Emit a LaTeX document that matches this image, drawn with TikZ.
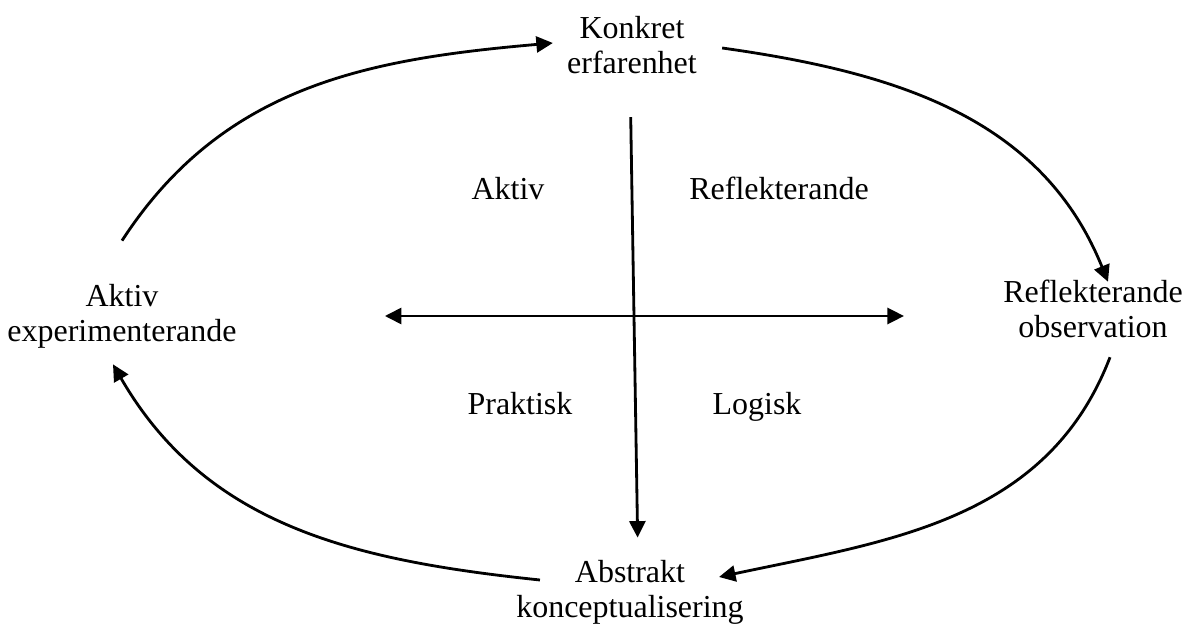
\documentclass[tikz,border=0pt]{standalone}
\usepackage{fontspec}
\setmainfont{Liberation Serif}
\usepackage{tikz}
\usetikzlibrary{arrows.meta,positioning}

\tikzset{
  lbl/.style={inner sep=0pt, align=center, font=\fontsize{18.2pt}{19.9pt}\selectfont},
  flow/.style={line width=1.6pt, -{Triangle[length=0.33cm,width=0.32cm]}},
  both/.style={line width=1.6pt, {Triangle[length=0.33cm,width=0.32cm]}-{Triangle[length=0.33cm,width=0.32cm]}}
}

\begin{document}
\begin{tikzpicture}
\useasboundingbox (0,0) rectangle (23.78,12.52);

% Draw the four stages
\node[lbl] (ke) at (12.64,11.62) {Konkret\\erfarenhet};
\node[lbl] (ae) at (2.44,6.20) {Aktiv\\experimenterande};
\node[lbl] (ro) at (21.86,6.34) {Reflekterande\\observation};
\node[lbl] (ak) at (12.60,0.68) {Abstrakt\\konceptualisering};

% Quadrant labels
\node[lbl, anchor=base] (aktiv) at (10.16,8.52) {Aktiv};
\node[lbl, anchor=base] (refl) at (15.58,8.52) {Reflekterande};
\node[lbl, anchor=base] (prak) at (10.40,4.22) {Praktisk};
\node[lbl, anchor=base] (logi) at (15.14,4.22) {Logisk};

% Cycle arrows
\draw[flow] ([yshift=0.86cm]ae.north) to[out=57, in=185] ([xshift=-0.28cm,yshift=0.04cm]ke.west);
\draw[flow] ([xshift=0.5cm,yshift=-0.06cm]ke.east) to[out=-8, in=112] ([xshift=0.3cm,yshift=-0.04cm]ro.north);
\draw[flow] ([xshift=0.34cm,yshift=-0.38cm]ro.south) to[out=-111, in=12] ([xshift=-0.5cm,yshift=0.3cm]ak.east);
\draw[flow] ([xshift=0.48cm,yshift=0.24cm]ak.west) to[out=174, in=-60] ([xshift=-0.18cm,yshift=-0.32cm]ae.south);

% Axes
\draw[flow, shorten <=0.86cm, shorten >=0.44cm] ([xshift=-0.04cm]ke.south) -- ([xshift=0.16cm]ak.north);
\draw[both, shorten <=2.96cm, shorten >=1.98cm] (ae.east) -- ([yshift=-0.14cm]ro.west);
\end{tikzpicture}
\end{document}
